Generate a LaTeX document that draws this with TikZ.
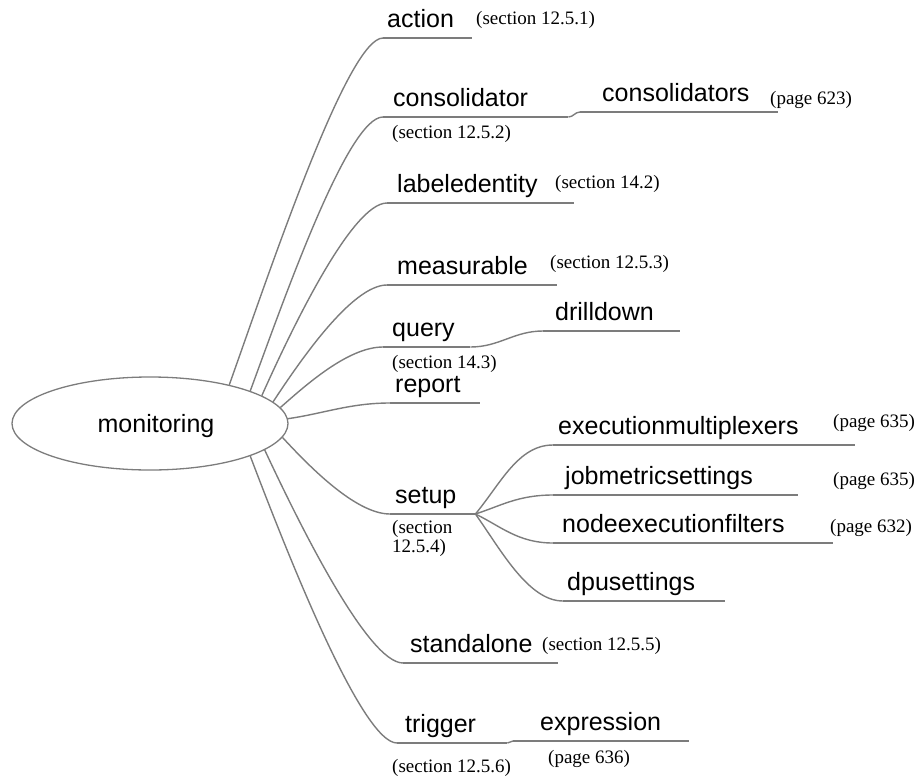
\documentclass[tikz,border=0pt]{standalone}
\usepackage{fontspec}
\newfontfamily\topicfont{Liberation Sans}
\newfontfamily\notefont{Liberation Serif}
\usepackage{tikz}
\usetikzlibrary{positioning,shapes.geometric}
\definecolor{branchgrey}{HTML}{7C7C7C}

\begin{document}
\begin{tikzpicture}[
  x=1pt,y=-1pt,
  rootnode/.style={ellipse,draw=branchgrey,line width=1.3pt,minimum width=276pt,minimum height=93pt,inner sep=0pt,text depth=0pt,font=\topicfont\fontsize{25}{30}\selectfont},
  topic/.style 2 args={anchor=south west,font=\topicfont\fontsize{25}{30}\selectfont,text width=#1,inner xsep=#2,inner ysep=6pt,text height=18pt,text depth=4pt,align=left},
  branch/.style={branchgrey,line width=1.4pt},
  note/.style={anchor=base west,inner sep=0pt,font=\notefont\fontsize{19}{14}\selectfont,align=left},
]
\useasboundingbox (0,0) rectangle (920,776);

% root
\node[rootnode] (mon) at (150,423.5) {\hspace*{12pt}monitoring};

% first level
\node[topic={81pt}{4pt}]   (action)        at (383,38)  {action};
\node[topic={165pt}{10pt}] (consolidator)  at (383,117) {consolidator};
\node[topic={167pt}{10pt}] (labeledentity) at (387,203) {labeledentity};
\node[topic={150pt}{10pt}] (measurable)    at (387,285) {measurable};
\node[topic={69pt}{9pt}]   (query)         at (383,347) {query};
\node[topic={80pt}{5pt}]   (report)        at (390,403) {report};
\node[topic={75pt}{5pt}]   (setup)         at (390,514) {setup};
\node[topic={141pt}{7pt}]  (standalone)    at (403,663) {standalone};
\node[topic={94pt}{8pt}]   (trigger)       at (397,743) {trigger};

% second level
\node[topic={154pt}{22pt}] (consolidators) at (580,112) {consolidators};
\node[topic={113pt}{12pt}] (drilldown)     at (543,331) {drilldown};
\node[topic={292pt}{5pt}]  (execmux)       at (553,445) {executionmultiplexers};
\node[topic={221pt}{12pt}] (jobmetric)     at (553,495) {jobmetricsettings};
\node[topic={262pt}{9pt}]  (nodeexec)      at (553,543) {nodeexecutionfilters};
\node[topic={154pt}{4pt}]  (dpuset)        at (563,601) {dpusettings};
\node[topic={122pt}{27pt}] (expression)    at (513,741) {expression};

% underlines
\foreach \n in {action,consolidator,labeledentity,measurable,query,report,setup,standalone,trigger,consolidators,drilldown,execmux,jobmetric,nodeexec,dpuset,expression}
  \draw[branch] (\n.south west) -- (\n.south east);

% branches from the root
\draw[branch] (mon.26)   .. controls +(43,-121) and +(-35,0) .. (action.south west);
\draw[branch] (mon.18.5) .. controls +(35,-95) and +(-35,0) .. (consolidator.south west);
\draw[branch] (mon.14)   .. controls +(30,-67) and +(-35,0) .. (labeledentity.south west);
\draw[branch] (mon.10)   .. controls +(27,-41) and +(-35,0) .. (measurable.south west);
\draw[branch] (mon.7)    .. controls +(25,-22) and +(-35,0) .. (query.south west);
\draw[branch] (mon.2)    .. controls +(35,-5) and +(-40,0) .. (report.south west);
\draw[branch] (mon.-6)   .. controls +(25,27) and +(-35,0) .. (setup.south west);
\draw[branch] (mon.-13)  .. controls +(35,75) and +(-35,0) .. (standalone.south west);
\draw[branch] (mon.-18)  .. controls +(38,100) and +(-35,0) .. (trigger.south west);

% sub branches
\draw[branch] (consolidator.south east) to[out=0,in=180] (consolidators.south west);
\draw[branch] (query.south east) to[out=0,in=180] (drilldown.south west);
\draw[branch] (trigger.south east) to[out=0,in=180] (expression.south west);
\draw[branch] (setup.south east) .. controls +(25,-30) and +(-35,0) .. (execmux.south west);
\draw[branch] (setup.south east) .. controls +(25,-8) and +(-35,0) .. (jobmetric.south west);
\draw[branch] (setup.south east) .. controls +(25,12) and +(-35,0) .. (nodeexec.south west);
\draw[branch] (setup.south east) .. controls +(25,35) and +(-35,0) .. (dpuset.south west);

% references
\node[note] (ref-action)  at (476,25)  {(section 12.5.1)};
\node[note] (ref-consol)  at (392,138) {(section 12.5.2)};
\node[note] (ref-consols) at (770,104) {(page 623)};
\node[note] (ref-label)   at (555,188) {(section 14.2)};
\node[note] (ref-measure) at (550,268) {(section 12.5.3)};
\node[note] (ref-query)   at (392,368) {(section 14.3)};
\node[note] (ref-setup)   at (392,552) {(section\\12.5.4)};
\node[note] (ref-stand)   at (542,650) {(section 12.5.5)};
\node[note] (ref-trigger) at (392,772) {(section 12.5.6)};
\node[note] (ref-expr)    at (548,763) {(page 636)};
\node[note] (ref-execmux) at (833,427) {(page 635)};
\node[note] (ref-jobmet)  at (833,485) {(page 635)};
\node[note] (ref-nodeex)  at (830,532) {(page 632)};
\end{tikzpicture}
\end{document}
